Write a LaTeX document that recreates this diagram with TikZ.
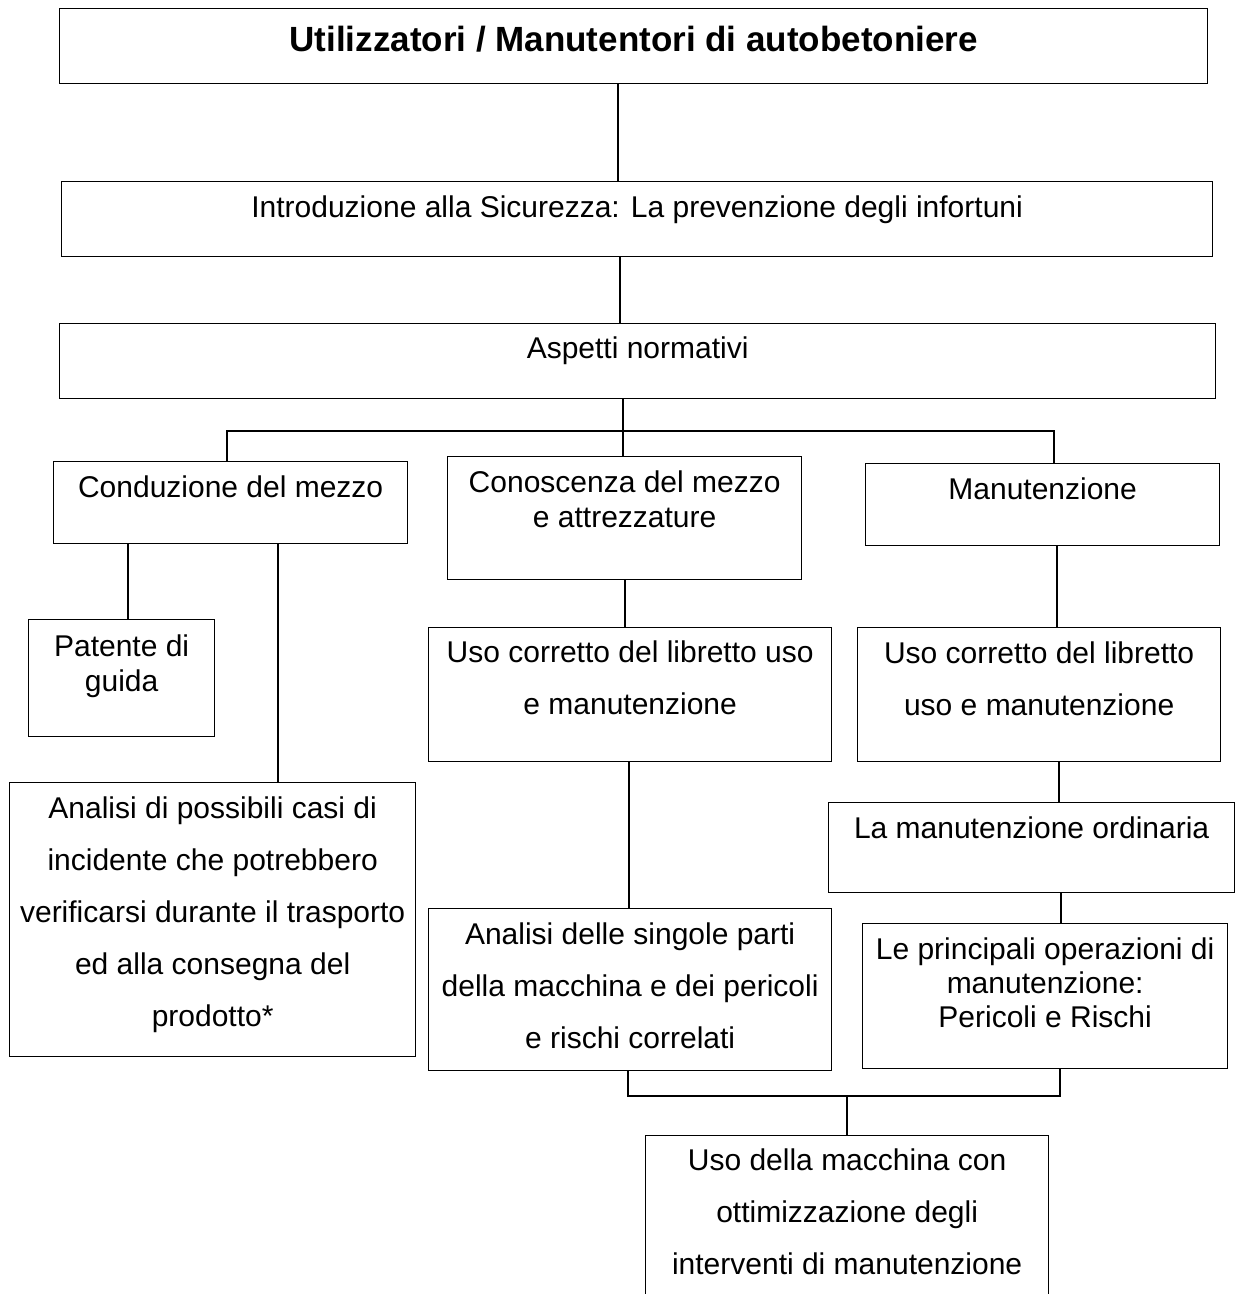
\documentclass[tikz,border=0pt]{standalone}
\usepackage{fontspec}
\setmainfont{Liberation Sans}
\usepackage{tikz}
\newcommand*{\pw}{1235}
\newcommand*{\ph}{1294}
\newcommand*{\celltext}[4][14pt]{\parbox[c][#3][t]{#2}{\centering\vspace*{#1}#4}}
\newcommand*{\tightfont}{\fontsize{30}{35}\selectfont}
\newcommand*{\loosefont}{\fontsize{30}{52}\selectfont}

\begin{document}
\begin{tikzpicture}[x=1pt, y=-1pt,
        blk/.style={draw, line width=1.3pt, inner sep=0pt, anchor=north west, font=\tightfont},
        link/.style={line width=1.3pt}]
    \useasboundingbox (0,0) rectangle (\pw,\ph);
    \clip (0,0) rectangle (\pw,\ph);
        \node [blk, font=\bfseries\fontsize{35}{40}\selectfont] (tit) at (59,8) {\celltext[17pt]{1148pt}{75pt}{Utilizzatori / Manutentori di autobetoniere}};
        \node [blk] (intro)  at ( 61,181) {\celltext{1151pt}{75pt}{Introduzione alla Sicurezza: La prevenzione degli infortuni}};
        \node [blk] (norm)   at ( 59,323) {\celltext[13pt]{1156pt}{75pt}{Aspetti normativi}};
        \node [blk] (cond)   at ( 53,461) {\celltext{354pt}{82pt}{Conduzione del mezzo}};
        \node [blk] (conosc) at (447,456) {\celltext{354pt}{123pt}{Conoscenza del mezzo\\ e attrezzature}};
        \node [blk] (manut)  at (865,463) {\celltext{354pt}{82pt}{Manutenzione}};
        \node [blk] (pat)    at ( 28,619) {\celltext[15pt]{186pt}{117pt}{Patente di\\ guida}};
        \node [blk, font=\loosefont] (libA) at (428,627) {\celltext[13pt]{403pt}{134pt}{Uso corretto del libretto uso\\ e manutenzione}};
        \node [blk, font=\loosefont] (libB) at (857,627) {\celltext{363pt}{134pt}{Uso corretto del libretto\\ uso e manutenzione}};
        \node [blk] (ord)    at (828,802) {\celltext{406pt}{90pt}{La manutenzione ordinaria}};
        \node [blk, font=\fontsize{30}{34}\selectfont] (ops) at (862,923) {\celltext{365pt}{145pt}{Le principali operazioni di\\ manutenzione:\\ Pericoli e Rischi}};
        \node [blk, font=\loosefont] (anA) at (9,782) {\celltext{406pt}{274pt}{Analisi di possibili casi di\\ incidente che potrebbero\\ verificarsi durante il trasporto\\ ed alla consegna del\\ prodotto*}};
        \node [blk, font=\loosefont] (anB) at (428,908) {\celltext{403pt}{162pt}{Analisi delle singole parti\\ della macchina e dei pericoli\\ e rischi correlati}};
        \node [blk, font=\loosefont] (uso) at (645,1135) {\celltext[13pt]{403pt}{200pt}{Uso della macchina con\\ ottimizzazione degli\\ interventi di manutenzione}};
        % branch points and columns of the links
        \coordinate (c0) at (618,0);
        \coordinate (c1) at (620,0);
        \coordinate (jm) at (623,431);
        \coordinate (jl) at (227,431);
        \coordinate (jr) at (1054,431);
        \coordinate (c3) at (128,0);
        \coordinate (c4) at (278,0);
        \coordinate (c5) at (625,0);
        \coordinate (c6) at (629,0);
        \coordinate (c7) at (1057,0);
        \coordinate (c8) at (1059,0);
        \coordinate (c9) at (1061,0);
        \coordinate (bl) at (628,1096);
        \coordinate (br) at (1060,1096);
        \coordinate (bm) at (847,1096);
        \draw [link] (tit.south -| c0) -- (intro.north -| c0);
        \draw [link] (intro.south -| c1) -- (norm.north -| c1);
        \draw [link] (norm.south -| jm) -- (jm);
        \draw [link] (cond.north -| jl) -- (jl) -- (jr) -- (manut.north -| jr);
        \draw [link] (jm) -- (conosc.north -| jm);
        \draw [link] (cond.south -| c3) -- (pat.north -| c3);
        \draw [link] (cond.south -| c4) -- (anA.north -| c4);
        \draw [link] (conosc.south -| c5) -- (libA.north -| c5);
        \draw [link] (libA.south -| c6) -- (anB.north -| c6);
        \draw [link] (manut.south -| c7) -- (libB.north -| c7);
        \draw [link] (libB.south -| c8) -- (ord.north -| c8);
        \draw [link] (ord.south -| c9) -- (ops.north -| c9);
        \draw [link] (anB.south -| bl) -- (bl) -- (br) -- (ops.south -| br);
        \draw [link] (bm) -- (uso.north -| bm);
    \end{tikzpicture}
\end{document}
